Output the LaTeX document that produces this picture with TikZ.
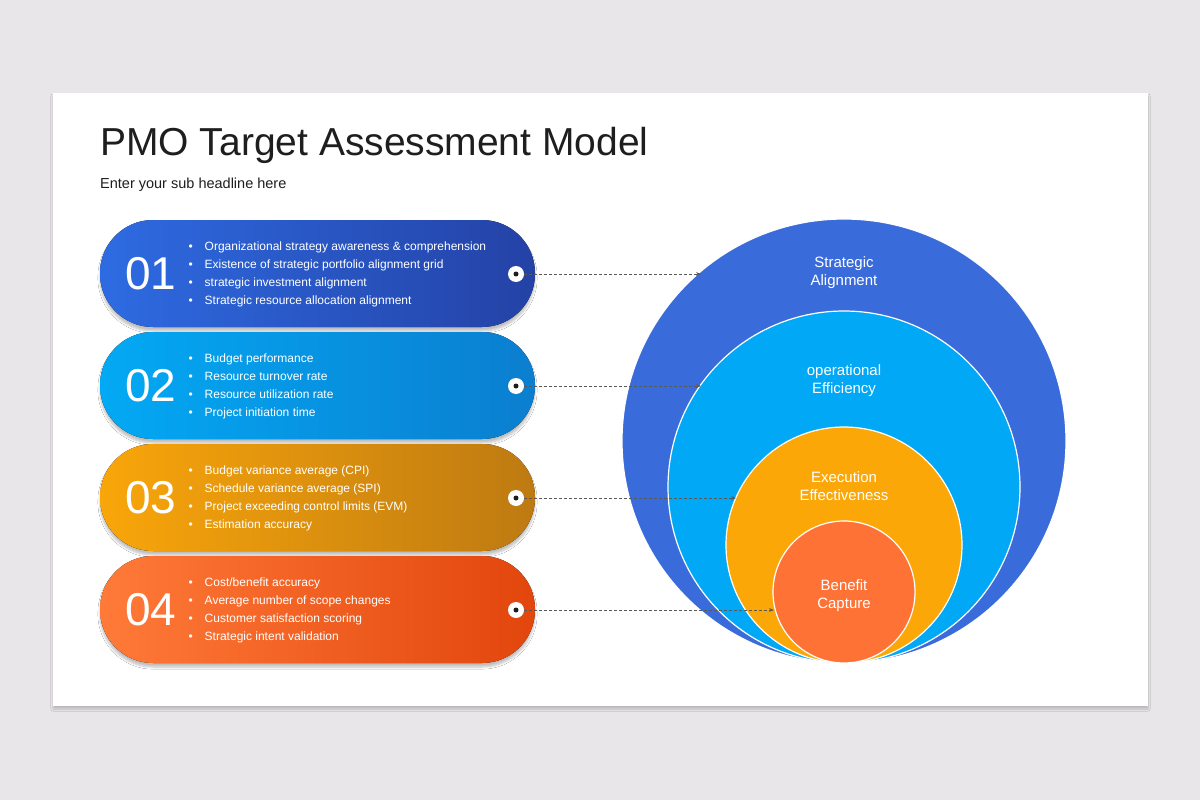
\documentclass[tikz,border=0pt]{standalone}
\usepackage{fontspec}
\setmainfont{Liberation Sans}
\usetikzlibrary{arrows.meta,shadows.blur}
\definecolor{bgc}{HTML}{E8E6E8}
\definecolor{cA}{HTML}{3A6BDB}\definecolor{cB}{HTML}{00A8F5}
\definecolor{cC}{HTML}{FBA708}\definecolor{cD}{HTML}{FF7235}
\definecolor{pa1}{HTML}{2E6BE2}\definecolor{pa2}{HTML}{2442A6}
\definecolor{pb1}{HTML}{03A9F4}\definecolor{pb2}{HTML}{0B7ECF}
\definecolor{pc1}{HTML}{F9A60A}\definecolor{pc2}{HTML}{BE7A12}
\definecolor{pd1}{HTML}{FF7A38}\definecolor{pd2}{HTML}{E2460C}
\definecolor{ink}{HTML}{1E1E1E}
\tikzset{
 num/.style={text=white,font=\fontsize{46}{46}\selectfont,anchor=center},
 bul/.style={text=white,font=\fontsize{12}{14}\selectfont,anchor=west,align=left},
 lab/.style={text=white,font=\fontsize{15}{18}\selectfont,align=center},
 conn/.style={densely dashed,gray!70!black,line width=0.6pt,-{Stealth[length=5pt]}},
 ring/.style={draw=white,line width=1.2pt}
}
\newcommand{\pill}[6]{%
 \fill[blur shadow={shadow blur steps=8,shadow xshift=0pt,shadow yshift=-4pt,shadow opacity=25},left color=#2,right color=#3,rounded corners=53] (100,#1) rectangle (535,#1+107);
 \node[num] (n#4) at (151,#1+54) {#5};
 \node[bul] (t#4) at (185,#1+54) {#6};
 \fill[white] (516,#1+54) circle (8);
 \fill[ink] (516,#1+54) circle (2.5);
 \coordinate (d#4) at (524,#1+54);
}
\begin{document}
\begin{tikzpicture}[x=1pt,y=-1pt]
\fill[bgc] (0,0) rectangle (1200,800);
\useasboundingbox (0,0) rectangle (1200,800);
\fill[white,blur shadow={shadow blur steps=10,shadow xshift=0pt,shadow yshift=-3pt,shadow opacity=20}] (53,93) rectangle (1148,706);
\node[anchor=base west,text=ink,font=\fontsize{39}{40}\selectfont,inner sep=0] (title) at (100,155) {PMO Target Assessment Model};
\node[anchor=base west,text=ink,font=\fontsize{14.5}{16}\selectfont,inner sep=0] (sub) at (100,188) {Enter your sub headline here};
\def\b{\textbullet\hspace{12pt}}
\pill{220}{pa1}{pa2}{1}{01}{\b Organizational strategy awareness \& comprehension\\[4pt]\b Existence of strategic portfolio alignment grid\\[4pt]\b strategic investment alignment\\[4pt]\b Strategic resource allocation alignment}
\pill{332}{pb1}{pb2}{2}{02}{\b Budget performance\\[4pt]\b Resource turnover rate\\[4pt]\b Resource utilization rate\\[4pt]\b Project initiation time}
\pill{444}{pc1}{pc2}{3}{03}{\b Budget variance average (CPI)\\[4pt]\b Schedule variance average (SPI)\\[4pt]\b Project exceeding control limits (EVM)\\[4pt]\b Estimation accuracy}
\pill{556}{pd1}{pd2}{4}{04}{\b Cost/benefit accuracy\\[4pt]\b Average number of scope changes\\[4pt]\b Customer satisfaction scoring\\[4pt]\b Strategic intent validation}
\fill[cA,ring] (844,441) circle (222);
\fill[cB,ring] (844,487) circle (176);
\fill[cC,ring] (844,545) circle (118);
\fill[cD,ring] (844,592) circle (71);
\node[lab] (l1) at (844,273) {Strategic\\Alignment};
\node[lab] (l2) at (844,381) {operational\\Efficiency};
\node[lab] (l3) at (844,486) {Execution\\Effectiveness};
\node[lab] (l4) at (844,596) {Benefit\\Capture};
\coordinate (e1) at (701,274);
\coordinate (e2) at (701,386);
\coordinate (e3) at (736,498);
\coordinate (e4) at (774,610);
\foreach \i in {1,2,3,4} \draw[conn] (d\i) -- (e\i);
\end{tikzpicture}
\end{document}
